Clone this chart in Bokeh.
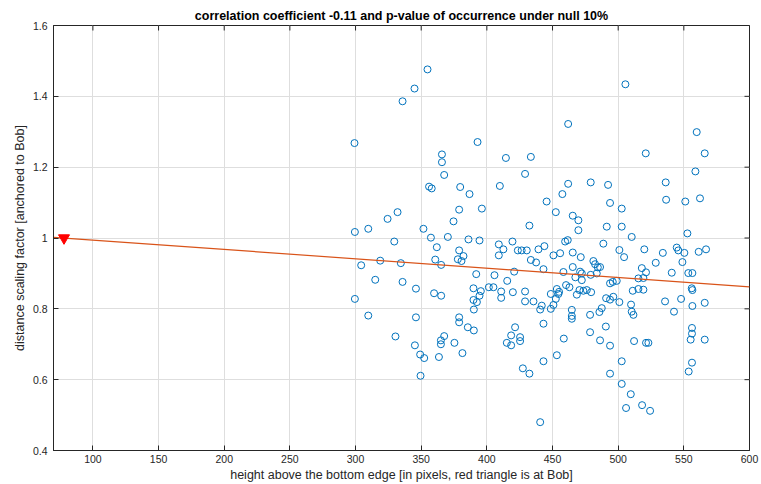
import math
from bokeh.plotting import figure
from bokeh.models import Range1d, FixedTicker, ColumnDataSource
from bokeh.embed import file_html
from bokeh.resources import INLINE

TITLE = "correlation coefficient -0.11 and p-value of occurrence under null 10%"
X_LABEL = "height above the bottom edge [in pixels, red triangle is at Bob]"
Y_LABEL = "distance scaling factor [anchored to Bob]"

X_TICKS = [100, 150, 200, 250, 300, 350, 400, 450, 500, 550, 600]
Y_TICKS = [0.4, 0.6, 0.8, 1.0, 1.2, 1.4, 1.6]
Y_TICK_LABELS = ["0.4", "0.6", "0.8", "1", "1.2", "1.4", "1.6"]
X_RANGE = [70, 600]
Y_RANGE = [0.4, 1.6]

# Bob (reference point) and the fitted line
BOB_X = [78]
BOB_Y = [1.0]
FIT_X = [70, 600]
FIT_Y = [1.002, 0.862]

HEIGHT_PX = [
    344.9, 335.8, 299.2, 365.8, 365.8, 367.5, 356.0, 358.0, 379.7, 386.8,
    392.9, 414.5, 433.5, 409.9, 429.1, 445.5, 461.9, 461.9, 457.5, 354.8,
    505.5, 332.0, 324.4, 299.5, 309.7, 351.7, 357.4, 361.9, 329.5, 360.7,
    318.8, 334.5, 304.3, 315.0, 335.8, 346.0, 359.8, 365.2, 299.5, 309.7,
    346.0, 330.4, 345.2, 349.2, 352.3, 349.5, 390.1, 378.9, 378.9, 385.5,
    390.1, 367.5, 365.0, 365.0, 375.3, 381.4, 363.5, 440.6, 448.7, 464.7,
    464.7, 464.7, 443.1, 421.5, 418.5, 425.3, 425.3, 415.2, 418.5, 458.6,
    453.3, 443.1, 427.4, 432.4, 440.6, 378.9, 396.2, 374.6, 365.2, 370.3,
    378.9, 382.2, 377.9, 380.7, 386.0, 394.4, 391.9, 405.8, 415.5, 420.8,
    409.1, 412.6, 409.1, 419.5, 423.6, 426.5, 430.4, 432.4, 439.3, 443.8,
    433.5, 437.5, 443.1, 452.5, 465.4, 469.7, 469.7, 459.6, 461.6, 450.7,
    455.8, 465.4, 465.4, 458.3, 467.4, 389.8, 395.4, 394.4, 389.8, 392.4,
    401.5, 405.0, 410.9, 410.9, 419.8, 429.1, 429.1, 435.5, 441.8, 448.7,
    453.3, 455.0, 454.5, 452.5, 450.7, 460.3, 462.9, 468.5, 559.8, 565.9,
    521.0, 558.8, 479.1, 492.3, 536.2, 493.8, 502.7, 536.5, 551.1, 562.3,
    491.3, 502.7, 510.3, 552.7, 488.7, 471.5, 500.9, 504.5, 519.9, 534.0,
    544.6, 545.8, 550.4, 561.3, 566.9, 528.6, 548.9, 481.1, 482.4, 484.5,
    486.2, 471.0, 472.3, 472.3, 479.1, 483.7, 518.0, 521.2, 515.4, 519.2,
    540.8, 553.4, 556.5, 493.8, 495.9, 498.9, 470.5, 473.5, 476.1, 479.4,
    511.1, 515.4, 519.2, 556.0, 556.5, 490.8, 493.8, 496.3, 500.9, 509.8,
    535.7, 547.9, 565.9, 556.5, 542.5, 510.3, 511.6, 487.5, 485.7, 478.6,
    490.6, 478.6, 486.2, 493.8, 512.1, 521.2, 523.0, 502.7, 493.8, 502.7,
    509.6, 506.0, 518.2, 524.3, 556.2, 556.2, 555.2, 565.9, 556.2, 553.7,
]

SCALE_FACTOR = [
    1.422, 1.386, 1.268, 1.236, 1.214, 1.178, 1.145, 1.140, 1.144, 1.124,
    1.271, 1.226, 1.229, 1.147, 1.181, 1.103, 1.322, 1.153, 1.124, 1.476,
    1.434, 1.073, 1.054, 1.017, 1.026, 1.026, 1.001, 0.974, 0.990, 0.939,
    0.936, 0.929, 0.923, 0.882, 0.876, 0.857, 0.844, 0.837, 0.828, 0.781,
    0.776, 0.722, 0.697, 0.671, 0.661, 0.611, 0.798, 0.776, 0.762, 0.748,
    0.739, 0.723, 0.711, 0.700, 0.704, 0.675, 0.664, 0.798, 0.800, 0.797,
    0.780, 0.772, 0.758, 0.748, 0.725, 0.720, 0.709, 0.704, 0.697, 0.716,
    0.669, 0.652, 0.632, 0.617, 0.480, 1.080, 1.083, 1.047, 0.924, 1.003,
    0.965, 0.949, 0.940, 0.935, 0.996, 0.993, 0.898, 0.895, 0.879, 0.905,
    0.982, 0.968, 0.951, 0.990, 0.965, 0.965, 0.965, 1.035, 0.968, 0.977,
    0.938, 0.931, 0.912, 1.073, 1.063, 1.050, 1.022, 0.990, 0.994, 0.951,
    0.957, 0.959, 0.918, 0.904, 0.889, 0.858, 0.850, 0.837, 0.825, 0.819,
    0.861, 0.861, 0.849, 0.831, 0.847, 0.849, 0.821, 0.821, 0.809, 0.842,
    0.856, 0.848, 0.842, 0.828, 0.811, 0.867, 0.861, 0.840, 1.299, 1.239,
    1.239, 1.188, 1.157, 1.150, 1.157, 1.099, 1.083, 1.108, 1.103, 1.112,
    1.032, 1.032, 1.003, 1.013, 0.984, 0.946, 0.966, 0.946, 0.968, 0.958,
    0.973, 0.965, 0.958, 0.961, 0.968, 0.930, 0.932, 0.935, 0.926, 0.917,
    0.918, 0.905, 0.900, 0.881, 0.896, 0.900, 0.915, 0.903, 0.886, 0.887,
    0.902, 0.901, 0.901, 0.872, 0.876, 0.879, 0.853, 0.851, 0.853, 0.847,
    0.851, 0.856, 0.854, 0.858, 0.853, 0.830, 0.826, 0.834, 0.819, 0.812,
    0.821, 0.828, 0.817, 0.808, 0.792, 0.792, 0.783, 0.802, 0.791, 0.783,
    0.750, 0.734, 0.711, 0.696, 0.709, 0.704, 0.704, 0.652, 0.617, 0.588,
    0.559, 0.520, 0.528, 0.512, 0.746, 0.730, 0.713, 0.713, 0.648, 0.623,
]

FONT = "Liberation Sans"
INK = "#262626"

p = figure(
    width=761, height=484,
    x_range=Range1d(*X_RANGE), y_range=Range1d(*Y_RANGE),
    output_backend="svg", toolbar_location=None,
    min_border_left=53, min_border_right=12, min_border_top=25, min_border_bottom=33,
    background_fill_color="white", border_fill_color="white",
)
p.outline_line_color = INK
p.outline_line_width = 1

p.title.text = TITLE
p.title.align = "center"
p.title.text_font = FONT
p.title.text_font_size = "12.5px"
p.title.text_font_style = "bold"
p.title.text_color = "#000000"
p.title.standoff = 5

xt = FixedTicker(ticks=X_TICKS)
yt = FixedTicker(ticks=Y_TICKS)
p.xaxis.ticker = xt
p.yaxis.ticker = yt
p.xgrid.ticker = xt
p.ygrid.ticker = yt
p.yaxis.major_label_overrides = dict(zip(Y_TICKS, Y_TICK_LABELS))

for ax in (p.xaxis[0], p.yaxis[0]):
    ax.major_tick_in = 5
    ax.major_tick_out = 0
    ax.minor_tick_in = 0
    ax.minor_tick_out = 0
    ax.axis_line_color = INK
    ax.major_tick_line_color = INK
    ax.major_label_text_font = FONT
    ax.major_label_text_font_size = "10.5px"
    ax.major_label_text_color = INK
    ax.axis_label_text_font = FONT
    ax.axis_label_text_font_size = "12.5px"
    ax.axis_label_text_font_style = "normal"
    ax.axis_label_text_color = INK
p.xaxis.major_label_standoff = 4
p.yaxis.major_label_standoff = 6
p.xaxis.axis_label = X_LABEL
p.xaxis.axis_label_standoff = 2
p.yaxis.axis_label = Y_LABEL
p.yaxis.axis_label_standoff = 3

for g in (p.xgrid[0], p.ygrid[0]):
    g.grid_line_color = "#dedede"
    g.grid_line_width = 1

# inward tick marks on the top and right edges of the box (half of each dash is clipped)
p.scatter(X_TICKS, [Y_RANGE[1]] * len(X_TICKS), marker="dash", size=10, angle=math.pi / 2,
          line_color=INK, line_width=1)
p.scatter([X_RANGE[1]] * len(Y_TICKS), Y_TICKS, marker="dash", size=10,
          line_color=INK, line_width=1)

src = ColumnDataSource(dict(x=HEIGHT_PX, y=SCALE_FACTOR))
p.scatter("x", "y", source=src, marker="circle", size=7, fill_color=None,
          line_color="#0072BD", line_width=1)
p.line(FIT_X, FIT_Y, line_color="#D95319", line_width=1.2)
p.scatter(BOB_X, BOB_Y, marker="inverted_triangle", size=11, fill_color="#ff0000",
          line_color="#ff0000")

open("out.html", "w").write(file_html(p, INLINE))
